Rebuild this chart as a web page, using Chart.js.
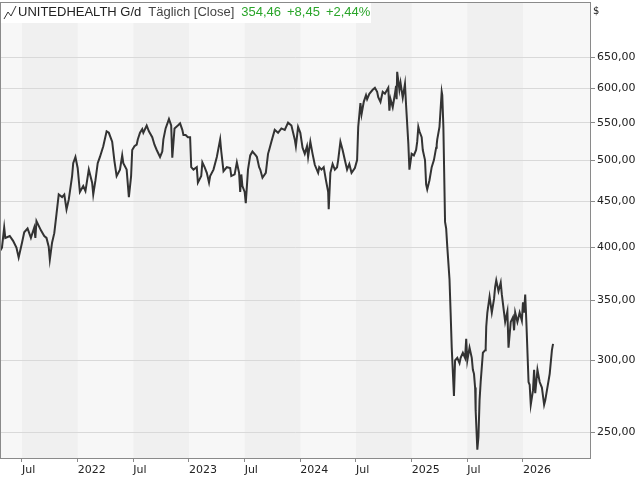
<!DOCTYPE html>
<html>
<head>
<meta charset="utf-8">
<script src="https://cdn.jsdelivr.net/npm/chart.js@4/dist/chart.umd.min.js"></script>
<style>
  body { margin: 0; background: #fff; }
  #wrap { width: 640px; height: 480px; position: relative; }
</style>
</head>
<body>
<div id="wrap"><canvas id="myChart" width="640" height="480"></canvas></div>
<script>
// time as decimal years, close in USD
const times = [
  2021.30,2021.32,2021.34,2021.35,2021.39,2021.42,2021.45,2021.47,2021.50,2021.52,2021.55,2021.58,2021.61,2021.62,2021.63,2021.67,2021.70,2021.72,2021.74,2021.75,2021.77,2021.79,2021.81,2021.83,2021.86,2021.88,2021.90,2021.92,2021.95,2021.96,2021.98,
  2022.00,2022.02,2022.05,2022.07,2022.10,2022.13,2022.14,2022.16,2022.18,2022.20,2022.23,2022.26,2022.28,2022.31,2022.33,2022.35,2022.38,2022.40,2022.41,2022.44,2022.46,2022.48,2022.49,2022.51,2022.53,2022.54,2022.56,2022.58,2022.59,2022.62,2022.64,2022.67,2022.69,2022.71,2022.74,2022.76,2022.77,2022.79,2022.82,2022.84,2022.85,2022.87,2022.90,2022.92,2022.94,2022.95,2022.97,2022.99,
  2023.01,2023.02,2023.04,2023.07,2023.08,2023.11,2023.12,2023.14,2023.16,2023.18,2023.19,2023.22,2023.25,2023.28,2023.29,2023.31,2023.34,2023.37,2023.38,2023.41,2023.43,2023.45,2023.46,2023.47,2023.48,2023.50,2023.51,2023.53,2023.55,2023.57,2023.60,2023.61,2023.63,2023.64,2023.66,2023.69,2023.71,2023.72,2023.74,2023.77,2023.80,2023.83,2023.86,2023.89,2023.92,2023.95,2023.96,2023.98,
  2024.00,2024.02,2024.04,2024.06,2024.07,2024.09,2024.11,2024.13,2024.16,2024.17,2024.19,2024.21,2024.23,2024.25,2024.255,2024.27,2024.29,2024.31,2024.33,2024.34,2024.36,2024.38,2024.40,2024.42,2024.44,2024.46,2024.49,2024.51,2024.52,2024.54,2024.55,2024.57,2024.59,2024.60,2024.62,2024.65,2024.67,2024.69,2024.70,2024.72,2024.74,2024.76,2024.78,2024.79,2024.80,2024.81,2024.83,2024.85,2024.86,2024.865,2024.87,2024.89,2024.90,2024.92,2024.94,2024.95,2024.97,2024.98,
  2025.00,2025.02,2025.04,2025.05,2025.06,2025.07,2025.09,2025.10,2025.12,2025.13,2025.14,2025.16,2025.18,2025.20,2025.22,2025.225,2025.23,2025.25,2025.27,2025.275,2025.285,2025.30,2025.31,2025.32,2025.34,2025.35,2025.36,2025.38,2025.39,2025.41,2025.43,2025.44,2025.46,2025.48,2025.49,2025.50,2025.52,2025.54,2025.55,2025.56,2025.57,2025.575,2025.59,2025.60,2025.61,2025.62,2025.64,2025.66,2025.665,2025.67,2025.68,2025.70,2025.72,2025.74,2025.75,2025.76,2025.78,2025.80,2025.81,2025.83,2025.84,2025.86,2025.87,2025.89,2025.91,2025.92,2025.93,2025.95,2025.97,2025.99,
  2026.00,2026.01,2026.02,2026.03,2026.05,2026.06,2026.07,2026.09,2026.10,2026.11,2026.13,2026.15,2026.17,2026.19,2026.20,2026.24,2026.26,2026.27
];
const closes = [
  396,400,421,410,412,407,400,390,405,416,420,410,421,410,428,418,412,410,401,388,405,415,436,458,455,458,441,452,480,496,504,
  490,461,468,462,488,472,458,475,496,504,518,538,536,524,499,480,488,506,496,488,455,480,513,518,520,527,536,541,536,546,538,530,520,513,504,511,527,542,555,546,503,542,546,549,540,533,533,530,
  530,491,488,491,472,480,497,491,484,472,480,488,504,527,511,486,491,490,480,482,497,484,461,482,468,461,448,488,506,511,506,504,491,488,478,484,508,513,524,540,536,542,540,550,546,527,518,544,
  536,516,508,518,504,524,508,494,484,491,488,491,475,461,441,484,495,488,491,500,524,513,500,488,495,484,490,500,544,578,562,580,590,584,592,598,601,595,587,580,595,592,598,601,567,584,572,592,604,584,626,598,609,586,607,575,522,488,
  508,506,513,524,544,538,530,513,500,470,464,475,491,500,516,520,527,544,595,590,544,427,420,401,369,339,310,274,300,302,298,302,306,302,317,300,310,302,293,290,280,264,239,247,271,284,306,308,310,327,339,353,339,351,362,368,358,366,355,339,331,340,310,331,335,324,339,331,339,332,348,
  339,355,332,284,282,268,278,293,276,293,284,280,268,271,290,308,313,324
];
const yTicks = [250, 300, 350, 400, 450, 500, 550, 600, 650];
const xTicks = [2021.5, 2022, 2022.5, 2023, 2023.5, 2024, 2024.5, 2025, 2025.5, 2026];
const xMin = 2021.3024, xMax = 2026.611;
const lastBand = 2026.0;

const FONT = "'DejaVu Sans', sans-serif";
const HFONT = "'Liberation Sans', sans-serif";

const bgPlugin = {
    id: 'bg',
    beforeDraw(chart)
    {
        const {ctx, chartArea: a, scales: {x}} = chart;
        ctx.save();
        ctx.fillStyle = '#f7f7f7';
        ctx.fillRect(a.left, a.top, a.right - a.left, a.bottom - a.top);
        ctx.fillStyle = '#f0f0f0';
        for (let y = 2021.5; y < lastBand; y += 1)
        {
            const l = Math.max(a.left, x.getPixelForValue(y));
            const r = Math.min(a.right, x.getPixelForValue(y + 0.5));
            ctx.fillRect(l, a.top, r - l, a.bottom - a.top);
        }
        ctx.restore();
    },
    afterDraw(chart)
    {
        const {ctx, chartArea: a} = chart;
        ctx.save();
        ctx.strokeStyle = '#8a8a8a';
        ctx.lineWidth = 1;
        ctx.strokeRect(a.left + 0.5, a.top + 0.5, a.right - a.left - 1, a.bottom - a.top);
        // header box
        ctx.fillStyle = '#ffffff';
        ctx.fillRect(1, a.top + 1, 370, 20);
        ctx.strokeStyle = '#333';
        ctx.beginPath();
        ctx.moveTo(4, 19); ctx.lineTo(8, 12); ctx.lineTo(11, 16); ctx.lineTo(16, 6);
        ctx.stroke();
        ctx.font = '13px ' + HFONT;
        ctx.textBaseline = 'middle';
        let px = 18;
        const parts = [['UNITEDHEALTH G/d', '#222'], ['Täglich [Close]', '#444'], ['354,46', '#2aa52a'], ['+8,45', '#2aa52a'], ['+2,44%', '#2aa52a']];
        parts.forEach(([t, c], i) =>
        {
            ctx.fillStyle = c;
            ctx.fillText(t, px, 12);
            px += ctx.measureText(t).width + (i < 2 ? 7 : 6);
        });
        ctx.fillStyle = '#222';
        ctx.font = '10px ' + FONT;
        ctx.fillText('$', 593, 11);
        ctx.restore();
    }
};

const ctx = document.getElementById('myChart').getContext('2d');
new Chart(ctx, {
    type: 'line',
    data: {
        datasets: [{
            data: times.map((t, i) => ({x: t, y: closes[i]})),
            borderColor: '#333333',
            borderWidth: 2,
            pointRadius: 0,
            tension: 0
        }]
    },
    options: {
        responsive: false,
        animation: false,
        layout: { padding: { top: 2, left: 0, right: 0, bottom: 0 } },
        plugins: { legend: { display: false }, tooltip: { enabled: false } },
        scales: {
            x: {
                type: 'linear', min: xMin, max: xMax,
                afterBuildTicks: s => { s.ticks = xTicks.map(v => ({value: v})); },
                afterFit: s => { s.height = 22; s.paddingLeft = 0; s.paddingRight = 0; },
                grid: { drawOnChartArea: false, drawTicks: true, tickLength: 4, color: '#8a8a8a' },
                border: { display: false },
                ticks: {
                    align: 'start', padding: 2, maxRotation: 0, autoSkip: false,
                    color: '#222', font: { family: FONT, size: 11 },
                    callback: v => Number.isInteger(v) ? String(v) : 'Jul'
                }
            },
            y: {
                type: 'logarithmic', position: 'right', min: 234, max: 748,
                afterBuildTicks: s => { s.ticks = yTicks.map(v => ({value: v})); },
                afterFit: s => { s.width = 49; s.paddingTop = 0; s.paddingBottom = 0; },
                grid: { color: '#d9d9d9', tickLength: 4, tickColor: '#8a8a8a' },
                border: { display: false },
                ticks: {
                    padding: 2, color: '#222', font: { family: FONT, size: 11 },
                    callback: v => v.toFixed(2).replace('.', ',')
                }
            }
        }
    },
    plugins: [bgPlugin]
});
</script>
</body>
</html>
